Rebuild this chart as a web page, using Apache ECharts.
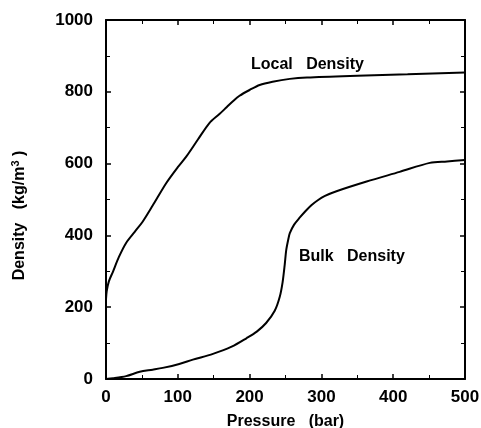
<!DOCTYPE html>
<html><head><meta charset="utf-8">
<script src="https://cdn.jsdelivr.net/npm/echarts@6/dist/echarts.min.js"></script>
<style>html,body{margin:0;padding:0;background:#fff}#c{width:481px;height:428px}</style>
</head><body><div id="c"></div>
<script>
const localPressure = [0, 1, 4, 9.5, 18, 28, 40, 51, 65, 84, 100, 112, 128, 144, 158, 168, 178, 186, 200, 214, 232, 256, 280, 350, 420, 500];
const localDensity  = [222, 245, 272, 298, 340, 379, 410, 438, 483, 546, 590, 620, 667, 713, 738, 757, 776, 789, 805, 819, 828, 836, 840, 845, 849, 854];
const bulkPressure = [0, 10, 28, 47, 65, 79, 102, 121, 149, 175, 196, 210, 223, 235, 242, 246, 249, 251, 254, 256, 262, 270, 278, 286, 295, 305, 321, 363, 409, 451, 475, 500];
const bulkDensity  = [0, 2, 8, 20, 26, 31, 42, 54, 70, 90, 114, 132, 156, 190, 229, 270, 320, 359, 390, 406, 430, 450, 468, 484, 498, 510, 523, 550, 577, 602, 606, 610];
const xTicks = [0, 100, 200, 300, 400, 500];
const yTicks = [0, 200, 400, 600, 800, 1000];

const font = 'Liberation Sans, Arial, sans-serif';
const chart = echarts.init(document.getElementById('c'));
const axisCommon = () => ({
  axisLine: {show: true, onZero: false, lineStyle: {color: '#000', width: 2}},
  axisTick: {show: true, inside: true, length: 5, lineStyle: {color: '#000', width: 1.5}},
  minorTick: {show: true, splitNumber: 2, length: 4, lineStyle: {color: '#000', width: 1}},
  splitLine: {show: false}
});
chart.setOption({
  animation: false,
  backgroundColor: '#fff',
  grid: {left: 106, right: 16, top: 20, bottom: 49, containLabel: false, outerBoundsMode: 'none'},
  xAxis: [
    Object.assign({type: 'value', min: xTicks[0], max: xTicks[xTicks.length-1], interval: 100,
      name: 'Pressure   (bar)', nameLocation: 'middle', nameGap: 35,
      nameTextStyle: {fontFamily: font, fontWeight: 'bold', fontSize: 16, color: '#000'},
      axisLabel: {fontFamily: font, fontWeight: 'bold', fontSize: 17, color: '#000', margin: 10}}, axisCommon()),
    Object.assign({type: 'value', position: 'top', min: 0, max: 500, interval: 100,
      axisLabel: {show: false}}, axisCommon())
  ],
  yAxis: [
    Object.assign({type: 'value', min: yTicks[0], max: yTicks[yTicks.length-1], interval: 200,
      name: 'Density   (kg/m{sup|3} )', nameLocation: 'middle', nameGap: 77, nameRotate: 90,
      nameTextStyle: {fontFamily: font, fontWeight: 'bold', fontSize: 16, color: '#000', padding: [0, 32, 0, 0],
        rich: {sup: {fontFamily: font, fontWeight: 'bold', fontSize: 11, color: '#000', verticalAlign: 'top', padding: [0,0,8,0]}}},
      axisLabel: {fontFamily: font, fontWeight: 'bold', fontSize: 17, color: '#000', margin: 13,
        formatter: v => String(v)}}, axisCommon()),
    Object.assign({type: 'value', position: 'right', min: 0, max: 1000, interval: 200,
      axisLabel: {show: false}}, axisCommon())
  ],
  series: [
    {type: 'line', name: 'Local Density', data: localPressure.map((p, i) => [p, localDensity[i]]),
      showSymbol: false, smooth: 0.3, lineStyle: {color: '#000', width: 2}},
    {type: 'line', name: 'Bulk Density', data: bulkPressure.map((p, i) => [p, bulkDensity[i]]),
      showSymbol: false, smooth: 0.3, lineStyle: {color: '#000', width: 2}}
  ],
  graphic: [
    {type: 'text', left: 251, top: 57, style: {text: 'Local   Density', fontFamily: font, fontWeight: 'bold', fontSize: 16, fill: '#000'}},
    {type: 'text', left: 299, top: 249, style: {text: 'Bulk   Density', fontFamily: font, fontWeight: 'bold', fontSize: 16, fill: '#000'}}
  ]
});
</script></body></html>
